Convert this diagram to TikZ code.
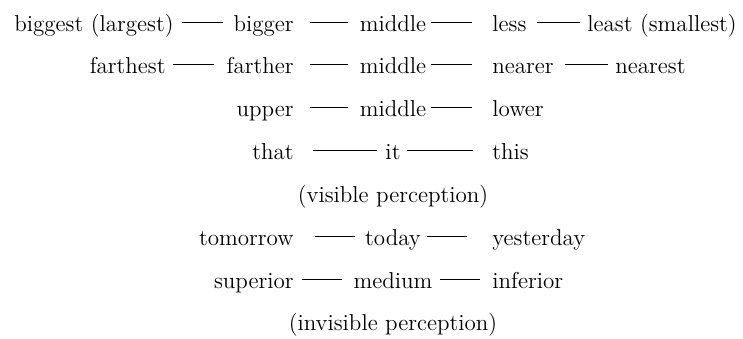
\documentclass[tikz,border=0pt]{standalone}
\usepackage{tikz}

\begin{document}
\begin{tikzpicture}[x=0.5pt,y=-0.5pt,
  word/.style={inner sep=0pt,text height=9pt,text depth=0pt,font=\fontsize{11.5pt}{14pt}\selectfont},
  link/.style={draw,line width=0.5pt}]
\useasboundingbox (0,0) rectangle (743,338);
\node[word,anchor=base east] (biggest) at (174,31) {biggest (largest)};
\node[word,anchor=base east] (bigger) at (294,31) {bigger};
\node[word,anchor=base] (midA) at (393,31) {middle};
\node[word,anchor=base west] (less) at (492,31) {less};
\node[word,anchor=base west] (least) at (587,31) {least (smallest)};
\node[word,anchor=base east] (farthest) at (166,73) {farthest};
\node[word,anchor=base east] (farther) at (294,73) {farther};
\node[word,anchor=base] (midB) at (393,73) {middle};
\node[word,anchor=base west] (nearer) at (492,73) {nearer};
\node[word,anchor=base west] (nearest) at (615,73) {nearest};
\node[word,anchor=base east] (upper) at (294,116) {upper};
\node[word,anchor=base] (midC) at (393,116) {middle};
\node[word,anchor=base west] (lower) at (492,116) {lower};
\node[word,anchor=base east] (that) at (294,159) {that};
\node[word,anchor=base] (it) at (393,159) {it};
\node[word,anchor=base west] (this) at (492,159) {this};
\node[word,anchor=base] (visible) at (393,202) {(visible perception)};
\node[word,anchor=base east] (tomorrow) at (294,245) {tomorrow};
\node[word,anchor=base] (today) at (393,245) {today};
\node[word,anchor=base west] (yesterday) at (492,245) {yesterday};
\node[word,anchor=base east] (superior) at (294,288) {superior};
\node[word,anchor=base] (medium) at (393,288) {medium};
\node[word,anchor=base west] (inferior) at (492,288) {inferior};
\node[word,anchor=base] (invisible) at (393,330) {(invisible perception)};
\draw[link,shorten <=4pt,shorten >=5.3pt] (biggest.east) -- (bigger.west);
\draw[link,shorten <=8pt,shorten >=5.6pt] (bigger.east) -- (midA.west);
\draw[link,shorten <=2pt,shorten >=10pt] (midA.east) -- (less.west);
\draw[link,shorten <=5.2pt,shorten >=3.5pt] (less.east) -- (least.west);
\draw[link,shorten <=3.5pt,shorten >=6.2pt] (farthest.east) -- (farther.west);
\draw[link,shorten <=8pt,shorten >=5.6pt] (farther.east) -- (midB.west);
\draw[link,shorten <=2pt,shorten >=10pt] (midB.east) -- (nearer.west);
\draw[link,shorten <=5.6pt,shorten >=3.5pt] (nearer.east) -- (nearest.west);
\draw[link,shorten <=8pt,shorten >=5.6pt] (upper.east) -- (midC.west);
\draw[link,shorten <=2pt,shorten >=10pt] (midC.east) -- (lower.west);
\draw[link,shorten <=9.5pt,shorten >=4.2pt] (that.east) -- (it.west);
\draw[link,shorten <=3.2pt,shorten >=9.5pt] (it.east) -- (this.west);
\draw[link,shorten <=10.5pt,shorten >=4.8pt] (tomorrow.east) -- (today.west);
\draw[link,shorten <=2.8pt,shorten >=12.5pt] (today.east) -- (yesterday.west);
\draw[link,shorten <=4pt,shorten >=5.4pt] (superior.east) -- (medium.west);
\draw[link,shorten <=3.4pt,shorten >=6pt] (medium.east) -- (inferior.west);
\end{tikzpicture}
\end{document}
